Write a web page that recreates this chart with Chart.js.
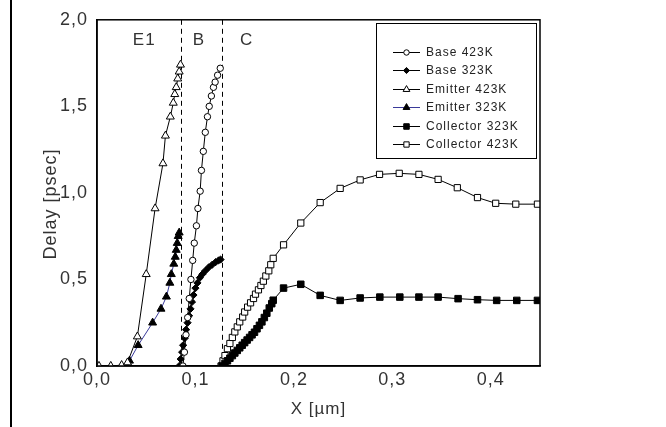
<!DOCTYPE html>
<html>
<head>
<meta charset="utf-8">
<script src="https://cdn.jsdelivr.net/npm/chart.js@4.4.1/dist/chart.umd.min.js"></script>
<style>
  html, body { margin: 0; padding: 0; background: #fff; }
  #wrap { width: 666px; height: 427px; position: relative; }
</style>
</head>
<body>
<div id="wrap"><canvas id="c" width="666" height="427"></canvas></div>
<script>
// ---- data ----
const base423X = [0.0873, 0.0888, 0.0904, 0.0921, 0.0937, 0.0954, 0.0972, 0.0988, 0.1010, 0.1025, 0.1048, 0.1061, 0.1080, 0.1100, 0.1122, 0.1140, 0.1162, 0.1183, 0.1200, 0.1225, 0.1252];
const base423Y = [0.00, 0.08, 0.18, 0.28, 0.39, 0.50, 0.61, 0.71, 0.81, 0.91, 1.01, 1.13, 1.24, 1.35, 1.44, 1.50, 1.56, 1.61, 1.64, 1.68, 1.72];

const base323X = [0.0835, 0.0850, 0.0865, 0.0875, 0.0890, 0.0905, 0.0920, 0.0935, 0.0950, 0.0965, 0.0980, 0.1000, 0.1020, 0.1045, 0.1070, 0.1100, 0.1135, 0.1170, 0.1205, 0.1235, 0.1255];
const base323Y = [0.00, 0.04, 0.08, 0.12, 0.16, 0.21, 0.25, 0.29, 0.33, 0.37, 0.41, 0.45, 0.48, 0.51, 0.53, 0.55, 0.57, 0.585, 0.60, 0.61, 0.615];

const emit423X = [0.002, 0.014, 0.025, 0.031, 0.041, 0.050, 0.059, 0.067, 0.0695, 0.0745, 0.0775, 0.0790, 0.0805, 0.0820, 0.0835, 0.0848];
const emit423Y = [0.00, 0.00, 0.005, 0.02, 0.17, 0.53, 0.91, 1.17, 1.33, 1.44, 1.52, 1.57, 1.61, 1.66, 1.70, 1.74];

const emit323X = [0.030, 0.033, 0.0418, 0.0565, 0.065, 0.0705, 0.074, 0.0755, 0.078, 0.0795, 0.0805, 0.0815, 0.0825, 0.0835];
const emit323Y = [0.00, 0.03, 0.12, 0.25, 0.33, 0.40, 0.48, 0.53, 0.59, 0.63, 0.67, 0.71, 0.75, 0.77];

const coll323X = [0.127, 0.130, 0.1325, 0.135, 0.1375, 0.140, 0.1425, 0.145, 0.1475, 0.150, 0.1525, 0.155, 0.1575, 0.160, 0.1625, 0.165, 0.1675, 0.170, 0.1725, 0.175, 0.1775, 0.179, 0.1895, 0.207, 0.2267, 0.247, 0.2673, 0.2873, 0.3076, 0.327, 0.3465, 0.3668, 0.3865, 0.406, 0.4264, 0.4474];
const coll323Y = [0.00, 0.015, 0.03, 0.045, 0.06, 0.075, 0.09, 0.105, 0.12, 0.135, 0.15, 0.165, 0.18, 0.195, 0.215, 0.235, 0.255, 0.28, 0.305, 0.335, 0.36, 0.38, 0.45, 0.472, 0.408, 0.379, 0.393, 0.398, 0.398, 0.398, 0.398, 0.389, 0.383, 0.379, 0.379, 0.379];

const coll423X = [0.126, 0.128, 0.130, 0.1325, 0.135, 0.1375, 0.140, 0.1425, 0.145, 0.148, 0.150, 0.153, 0.156, 0.159, 0.161, 0.164, 0.1665, 0.169, 0.1715, 0.1745, 0.1765, 0.179, 0.1895, 0.207, 0.2267, 0.247, 0.2673, 0.287, 0.307, 0.327, 0.3465, 0.366, 0.3865, 0.405, 0.4254, 0.4474];
const coll423Y = [0.00, 0.03, 0.06, 0.10, 0.13, 0.165, 0.197, 0.226, 0.255, 0.283, 0.312, 0.34, 0.365, 0.39, 0.415, 0.44, 0.465, 0.49, 0.52, 0.55, 0.585, 0.622, 0.70, 0.826, 0.944, 1.026, 1.075, 1.107, 1.113, 1.107, 1.078, 1.03, 0.973, 0.94, 0.935, 0.935];

const xTicks = [0.0, 0.1, 0.2, 0.3, 0.4];
const yTicks = [0.0, 0.5, 1.0, 1.5, 2.0];
const regionBounds = [0.085, 0.127];
const regionLabels = ['E1', 'B', 'C'];
const regionLabelX = [0.048, 0.1035, 0.152];
const regionLabelY = 1.88;
const seriesNames = ['Base 423K', 'Base 323K', 'Emitter 423K', 'Emitter 323K', 'Collector 323K', 'Collector 423K'];
const yTitle = 'Delay [psec]';
const xTitle = 'X [µm]';

function pts(xs, ys) { return xs.map((x, i) => ({ x: x, y: ys[i] })); }
const FONT = "'Liberation Sans', Arial, sans-serif";
const comma = v => Number(v).toFixed(1).replace('.', ',');

const datasets = [
  { label: seriesNames[0], data: pts(base423X, base423Y), pointStyle: 'circle', pointRadius: 3.2, pointBackgroundColor: '#fff', pointBorderColor: '#000', borderColor: '#000' },
  { label: seriesNames[1], data: pts(base323X, base323Y), pointStyle: 'rectRot', pointRadius: 3.6, pointBackgroundColor: '#000', pointBorderColor: '#000', borderColor: '#000' },
  { label: seriesNames[2], data: pts(emit423X, emit423Y), pointStyle: 'triangle', pointRadius: 4.6, pointBackgroundColor: '#fff', pointBorderColor: '#000', borderColor: '#000' },
  { label: seriesNames[3], data: pts(emit323X, emit323Y), pointStyle: 'triangle', pointRadius: 4.6, pointBackgroundColor: '#000', pointBorderColor: '#000', borderColor: '#3a3a9a' },
  { label: seriesNames[4], data: pts(coll323X, coll323Y), pointStyle: 'rect', pointRadius: 4.6, pointBackgroundColor: '#000', pointBorderColor: '#000', borderColor: '#000' },
  { label: seriesNames[5], data: pts(coll423X, coll423Y), pointStyle: 'rect', pointRadius: 4.4, pointBackgroundColor: '#fff', pointBorderColor: '#000', borderColor: '#000' }
].map(d => Object.assign({ showLine: true, borderWidth: 1, pointBorderWidth: 1, pointHoverRadius: d.pointRadius, fill: false, tension: 0 }, d));

const spacing = {
  id: 'spacing',
  beforeLayout(chart) { chart.ctx.letterSpacing = '1px'; },
  beforeDraw(chart) { chart.ctx.letterSpacing = '1px'; }
};

const deco = {
  id: 'deco',
  beforeDatasetsDraw(chart) {
    const ctx = chart.ctx, a = chart.chartArea, xs = chart.scales.x, ys = chart.scales.y;
    ctx.save();
    ctx.strokeStyle = '#000';
    ctx.lineWidth = 1;
    ctx.setLineDash([5, 4]);
    regionBounds.forEach(v => {
      const px = Math.round(xs.getPixelForValue(v)) + 0.5;
      ctx.beginPath(); ctx.moveTo(px, a.top); ctx.lineTo(px, a.bottom); ctx.stroke();
    });
    ctx.setLineDash([]);
    ctx.fillStyle = '#333';
    ctx.font = '17px ' + FONT;
    ctx.letterSpacing = '1px';
    ctx.textAlign = 'center';
    ctx.textBaseline = 'middle';
    regionLabels.forEach((t, i) => {
      ctx.fillText(t, xs.getPixelForValue(regionLabelX[i]), ys.getPixelForValue(regionLabelY));
    });
    ctx.restore();
  },
  afterDraw(chart) {
    const ctx = chart.ctx, a = chart.chartArea;
    ctx.save();
    ctx.fillStyle = '#000';
    ctx.fillRect(10, 0, 2, chart.height);
    ctx.strokeStyle = '#000';
    ctx.lineWidth = 1.5;
    ctx.strokeRect(a.left, a.top, a.right - a.left, a.bottom - a.top);
    ctx.save();
    ctx.translate(51, (a.top + a.bottom) / 2 + 11);
    ctx.rotate(-Math.PI / 2);
    ctx.fillStyle = '#333';
    ctx.font = '18px ' + FONT;
    ctx.letterSpacing = '1px';
    ctx.textAlign = 'center';
    ctx.textBaseline = 'middle';
    ctx.fillText(yTitle, 0, 0);
    ctx.restore();
    const lx = 376, ly = 23, lw = 160, lh = 135;
    ctx.lineWidth = 1;
    ctx.fillStyle = '#fff';
    ctx.fillRect(lx, ly, lw, lh);
    ctx.strokeRect(lx + 0.5, ly + 0.5, lw, lh);
    ctx.font = '12px ' + FONT;
    ctx.letterSpacing = '1px';
    ctx.textBaseline = 'middle';
    ctx.textAlign = 'left';
    chart.data.datasets.forEach((ds, row) => {
      const y = Math.round(ly + 29 + row * 18.4) + 0.5;
      ctx.strokeStyle = ds.borderColor;
      ctx.lineWidth = 1;
      ctx.beginPath(); ctx.moveTo(393, y); ctx.lineTo(420, y); ctx.stroke();
      ctx.fillStyle = ds.pointBackgroundColor;
      ctx.strokeStyle = ds.pointBorderColor;
      Chart.helpers.drawPoint(ctx, { pointStyle: ds.pointStyle, radius: ds.pointRadius * 0.85, borderWidth: 1, rotation: 0 }, 406.5, y);
      ctx.fillStyle = '#222';
      ctx.fillText(ds.label, 426, y);
    });
    ctx.restore();
  }
};

new Chart(document.getElementById('c'), {
  type: 'scatter',
  data: { datasets: datasets },
  options: {
    responsive: false,
    animation: false,
    events: [],
    layout: { padding: { left: 0, right: 126, top: 18, bottom: 0 } },
    plugins: { legend: { display: false }, tooltip: { enabled: false } },
    scales: {
      x: {
        type: 'linear', min: 0, max: 0.45,
        grid: { display: false, drawTicks: false },
        border: { display: true, color: '#000', width: 1.5 },
        afterBuildTicks: s => { s.ticks = xTicks.map(v => ({ value: v })); },
        afterFit: s => { s.height = 61; },
        ticks: { padding: 3, color: '#333', font: { family: FONT, size: 18 }, callback: v => comma(v), maxRotation: 0 },
        title: { display: true, text: xTitle, color: '#333', font: { family: FONT, size: 17 }, padding: { top: 0, bottom: 7 } }
      },
      y: {
        type: 'linear', min: 0, max: 2,
        grid: { display: false, drawTicks: false },
        border: { display: true, color: '#000', width: 1.5 },
        afterBuildTicks: s => { s.ticks = yTicks.map(v => ({ value: v })); },
        afterFit: s => { s.width = 97; },
        ticks: { padding: 9, color: '#333', font: { family: FONT, size: 18 }, callback: v => comma(v) },
        title: { display: false }
      }
    }
  },
  plugins: [spacing, deco]
});
</script>
</body>
</html>
